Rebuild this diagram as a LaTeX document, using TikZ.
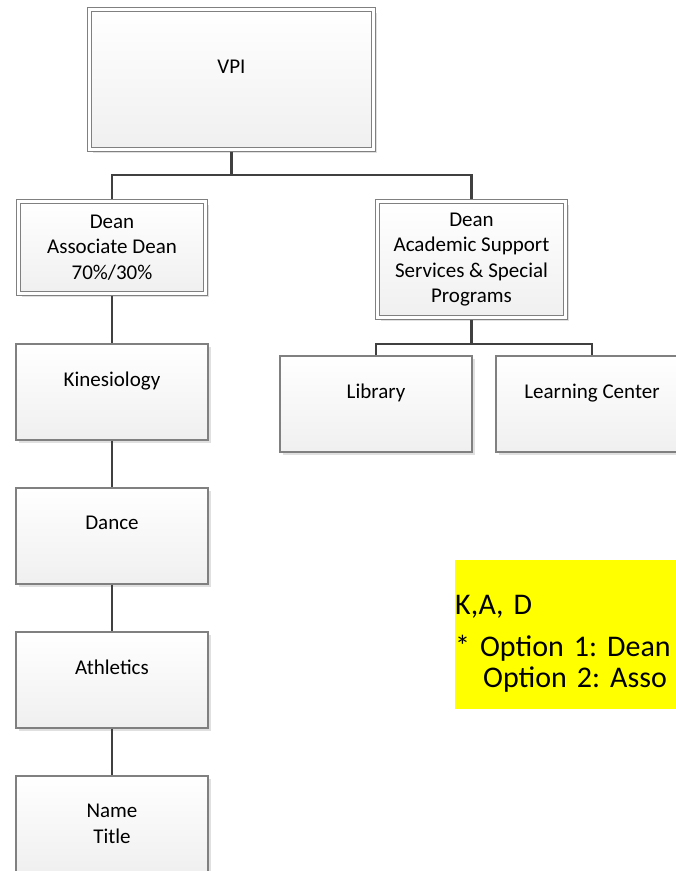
\documentclass[tikz,border=0pt]{standalone}
\usepackage{fontspec}
\setmainfont{Carlito}
\usetikzlibrary{shadows}

\definecolor{boxline}{HTML}{808080}
\definecolor{wirecol}{HTML}{404040}
\definecolor{notefill}{HTML}{FFFF00}

\begin{document}
\begin{tikzpicture}
    [
        x = 1pt, y = -1pt,
        every node/.append style = {font = \fontsize{21}{25.6}\selectfont\frenchspacing, align = center, inner sep = 0},
        unit/.style = {draw = boxline, line width = 1.2pt, top color = white, bottom color = black!6,
            minimum width = 192pt, minimum height = 96pt,
            drop shadow = {shadow xshift = 3pt, shadow yshift = -3pt, fill = black!12, opacity = 1}},
        head/.style = {unit, double = white, double distance = 3.5pt, outer sep = 2.95pt},
        wire/.style = {draw = wirecol, line width = 2.5pt},
        note/.style = {fill = notefill, anchor = north west, align = left, text width = 240pt,
            minimum height = 149pt, font = \fontsize{30}{31}\selectfont\frenchspacing}]

    \useasboundingbox (0, 0) rectangle (676, 871);
    \clip (0, 0) rectangle (676, 871);

    \node [head, minimum width = 284pt, minimum height = 140pt] (vpi) at (231.5, 79.5) {VPI\\\mbox{}};
    \node [head, minimum width = 187pt, minimum height = 92pt] (deanL) at (112, 247.5) {Dean\\Associate Dean\\70\%/30\%};
    \node [head, minimum width = 188pt, minimum height = 116pt] (deanR) at (471.5, 259.5) {Dean\\Academic Support\\Services \& Special\\Programs};

    \node [unit] (kines) at (112, 392) {Kinesiology\\\mbox{}};
    \node [unit] (dance) at (112, 536) {Dance\\\mbox{}};
    \node [unit] (athl) at (112, 680) {Athletics\\\mbox{}};
    \node [unit] (staff) at (112, 824) {Name\\Title};

    \node [unit] (library) at (376, 404) {Library\\\mbox{}};
    \node [unit] (learning) at (592, 404) {Learning Center\\\mbox{}};

    \node [note] (options) at (455, 560) {\rule{0pt}{41.7pt}K,A, D\\[11pt]* Option 1: Dean\\\hspace*{28pt}Option 2: Asso\strut};

    \coordinate (topbus) at (231.5, 175);
    \coordinate (rightbus) at (471.5, 344);

    \draw [wire] (vpi.south) -- (topbus);
    \draw [wire] (deanL.north) |- (topbus) -| (deanR.north);
    \draw [wire] (deanR.south) -- (rightbus);
    \draw [wire] (library.north) |- (rightbus) -| (learning.north);
    \draw [wire] (deanL) -- (kines) -- (dance) -- (athl) -- (staff);

\end{tikzpicture}
\end{document}
